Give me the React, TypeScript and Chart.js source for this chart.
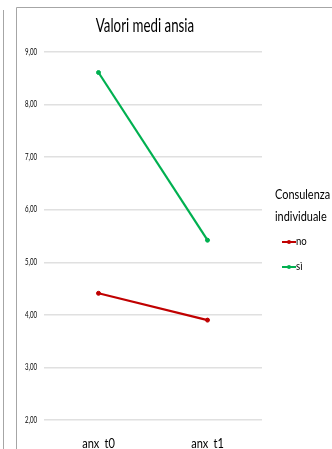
import React, { useEffect, useRef } from "react";
import { Chart, registerables } from "chart.js";

Chart.register(...registerables);

const categories = ["anx_t0", "anx_t1"];
const seriesNo = [4.41, 3.9];
const seriesSi = [8.61, 5.42];
const seriesLabels = ["no", "sì"];
const seriesColors = ["#c00000", "#00b050"];
const chartTitle = "Valori medi ansia";
const legendTitle = ["Consulenza", "individuale"];
const yMin = 2;
const yMax = 9;

const FONT = "Lato, 'Open Sans', sans-serif";

// Draws text squeezed horizontally to imitate a narrow office font.
function drawNarrow(
  ctx: CanvasRenderingContext2D,
  text: string,
  x: number,
  y: number,
  size: number,
  align: CanvasTextAlign,
  sx: number
) {
  ctx.save();
  ctx.font = `${size}px ${FONT}`;
  ctx.textAlign = align;
  ctx.textBaseline = "middle";
  ctx.fillStyle = "#000000";
  ctx.translate(x, y);
  ctx.scale(sx, 1);
  ctx.fillText(text, 0, 0);
  ctx.restore();
}

const framePlugin = {
  id: "frame",
  beforeDraw(chart: any) {
    const { ctx, width, height } = chart;
    ctx.save();
    ctx.fillStyle = "#ffffff";
    ctx.fillRect(0, 0, width, height);
    ctx.strokeStyle = "#a6a6a6";
    ctx.lineWidth = 1;
    ctx.beginPath();
    ctx.moveTo(3.5, 10);
    ctx.lineTo(3.5, height);
    ctx.moveTo(16.5, height);
    ctx.lineTo(16.5, 7.5);
    ctx.lineTo(width, 7.5);
    ctx.stroke();
    ctx.restore();
  },
  afterDraw(chart: any) {
    const { ctx } = chart;
    const xScale = chart.scales.x;
    const yScale = chart.scales.y;

    // title
    drawNarrow(ctx, chartTitle, 145, 26, 19, "center", 0.7);

    // y tick labels, from the value scale's ticks
    yScale.ticks.forEach((t: any) => {
      const label = Number(t.value).toFixed(2).replace(".", ",");
      drawNarrow(ctx, label, 37, yScale.getPixelForValue(t.value), 8.5, "right", 0.72);
    });

    // category labels
    categories.forEach((c, i) => {
      drawNarrow(ctx, c, xScale.getPixelForTick(i), 444, 13, "center", 0.85);
    });

    // legend
    legendTitle.forEach((t, i) => drawNarrow(ctx, t, 275, 195 + i * 22, 13, "left", 0.84));
    chart.data.datasets.forEach((ds: any, i: number) => {
      const y = 242 + i * 25;
      ctx.save();
      ctx.strokeStyle = ds.borderColor;
      ctx.fillStyle = ds.borderColor;
      ctx.lineWidth = 2;
      ctx.beginPath();
      ctx.moveTo(282, y);
      ctx.lineTo(296, y);
      ctx.stroke();
      ctx.beginPath();
      ctx.arc(289, y, 2, 0, Math.PI * 2);
      ctx.fill();
      ctx.restore();
      drawNarrow(ctx, ds.label, 296, y - 1, 12, "left", 0.8);
    });
  },
};

export default function App() {
  const canvasRef = useRef<HTMLCanvasElement | null>(null);

  useEffect(() => {
    document.body.style.margin = "0";
    const canvas = canvasRef.current;
    if (!canvas) return;
    const chart = new Chart(canvas, {
      type: "line",
      data: {
        labels: categories,
        datasets: [seriesNo, seriesSi].map((values, i) => ({
          label: seriesLabels[i],
          data: values,
          borderColor: seriesColors[i],
          backgroundColor: seriesColors[i],
          borderWidth: 2.2,
          pointRadius: 2,
          pointBorderWidth: 1,
          pointHoverRadius: 2,
          tension: 0,
        })),
      },
      options: {
        animation: false,
        responsive: false,
        devicePixelRatio: 1,
        layout: { padding: { left: 0, right: 70, top: 52, bottom: 0 } },
        plugins: {
          legend: { display: false },
          title: { display: false },
          tooltip: { enabled: false },
        },
        scales: {
          x: {
            offset: true,
            grid: { display: false, drawTicks: false },
            border: { display: false },
            ticks: { display: false },
            afterFit(scale: any) {
              scale.height = 29;
            },
          },
          y: {
            min: yMin,
            max: yMax,
            grid: { color: "#e0e0e0", lineWidth: 1.5, drawTicks: false },
            border: { display: false },
            ticks: { stepSize: 1, display: false },
            afterFit(scale: any) {
              scale.width = 44;
            },
          },
        },
      },
      plugins: [framePlugin],
    });
    return () => chart.destroy();
  }, []);

  return (
    <canvas
      ref={canvasRef}
      width={332}
      height={449}
      style={{ display: "block", width: 332, height: 449 }}
    />
  );
}
